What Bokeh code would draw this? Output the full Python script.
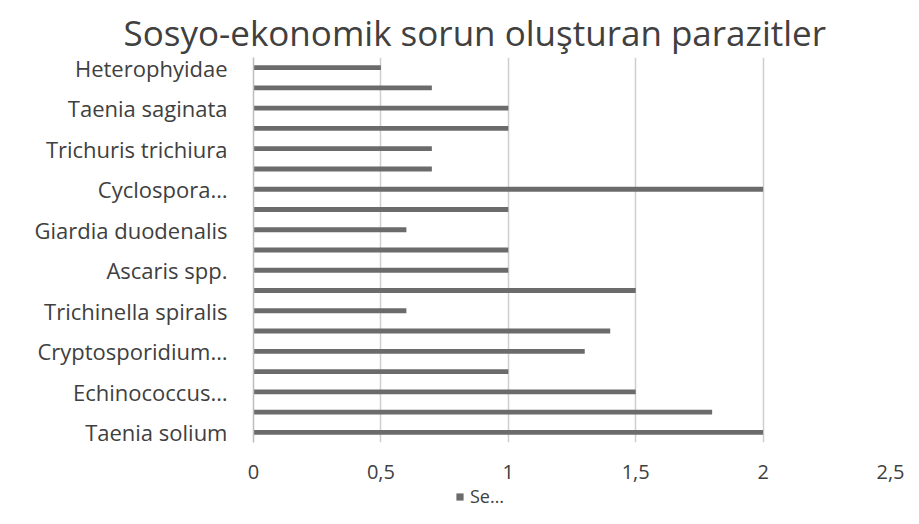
from bokeh.plotting import figure
from bokeh.layouts import column
from bokeh.models import ColumnDataSource, FixedTicker, Range1d, Legend, LegendItem
from bokeh.embed import file_html
from bokeh.resources import INLINE

# 19 bars, bottom to top; only every other category label is shown on the axis
categories = ["Taenia solium", "", "Echinococcus…", "", "Cryptosporidium…", "",
              "Trichinella spiralis", "", "Ascaris spp.", "", "Giardia duodenalis", "",
              "Cyclospora…", "", "Trichuris trichiura", "", "Taenia saginata", "",
              "Heterophyidae"]
values = [2.0, 1.8, 1.5, 1.0, 1.3, 1.4, 0.6, 1.5, 1.0, 1.0, 0.6, 1.0,
          2.0, 0.7, 0.7, 1.0, 1.0, 0.7, 0.5]
x_ticks = [0, 0.5, 1, 1.5, 2, 2.5]
x_tick_labels = ["0", "0,5", "1", "1,5", "2", "2,5"]
series_name = "Se…"
title_text = "Sosyo-ekonomik sorun oluşturan parazitler"

positions = list(range(len(values)))
src = ColumnDataSource(dict(y=positions, v=values))

FONT = "Open Sans"
TXT = "#404040"
BAR = "#6b6b6b"

p = figure(width=913, height=485, output_backend="svg", toolbar_location=None,
           x_range=Range1d(0, 2.5), y_range=Range1d(-0.5, len(values) - 0.5),
           min_border_left=253, min_border_right=23, min_border_top=57,
           min_border_bottom=43)
p.title.text = title_text
p.title.align = "left"
p.title.offset = -130
p.title.text_font = FONT
p.title.text_font_size = "35px"
p.title.text_font_style = "normal"
p.title.text_color = TXT
p.title.standoff = 4

r = p.hbar(y="y", right="v", left=0, height=0.24, source=src,
           fill_color=BAR, line_color=None)

p.outline_line_color = None
p.background_fill_color = "white"
p.border_fill_color = "white"

# x axis
xa = p.xaxis[0]
xa.ticker = FixedTicker(ticks=x_ticks)
xa.major_label_overrides = {t: l for t, l in zip(x_ticks, x_tick_labels)}
xa.axis_line_color = None
xa.major_tick_line_color = None
xa.minor_tick_line_color = None
xa.major_label_text_font = FONT
xa.major_label_text_font_size = "20px"
xa.major_label_text_color = TXT
xa.major_label_standoff = 16

# y axis
ya = p.yaxis[0]
shown = [i for i, c in enumerate(categories) if c]
ya.ticker = FixedTicker(ticks=shown)
ya.major_label_overrides = {i: categories[i] for i in shown}
ya.axis_line_color = "#bdbdbd"
ya.axis_line_width = 1.5
ya.major_tick_line_color = None
ya.minor_tick_line_color = None
ya.major_label_text_font = FONT
ya.major_label_text_font_size = "22px"
ya.major_label_text_color = TXT
ya.major_label_standoff = 20

p.ygrid.grid_line_color = None
p.xgrid.ticker = FixedTicker(ticks=x_ticks[1:])
p.xgrid.grid_line_color = "#cfcfcf"
p.xgrid.grid_line_width = 1.5

# legend strip below the chart (its own small figure so it is not clipped)
p2 = figure(width=913, height=29, output_backend="svg", toolbar_location=None,
            x_range=Range1d(100, 101), y_range=Range1d(100, 101),
            min_border=0, x_axis_type=None, y_axis_type=None)
p2.outline_line_color = None
p2.grid.grid_line_color = None
r2 = p2.hbar(y="y", right="v", left=0, height=0.24, source=src,
             fill_color=BAR, line_color=None)
legend = Legend(items=[LegendItem(label=series_name, renderers=[r2])],
                location=(202, 6), orientation="horizontal",
                padding=0, margin=0, spacing=0,
                glyph_width=9, glyph_height=9, label_standoff=6,
                label_height=20,
                label_text_font=FONT, label_text_font_size="18px",
                label_text_color=TXT, border_line_color=None,
                background_fill_alpha=0)
p2.add_layout(legend, "center")

layout = column(p, p2, spacing=0)
open("out.html", "w").write(file_html(layout, INLINE))
